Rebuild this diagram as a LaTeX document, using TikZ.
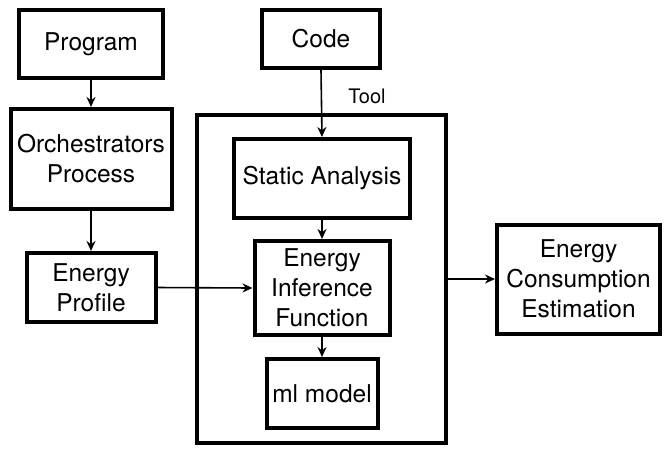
\documentclass[tikz,border=0pt]{standalone}
\usepackage{fontspec}
\setmainfont{TeX Gyre Heros}
\usetikzlibrary{arrows.meta}
\begin{document}
\begin{tikzpicture}[x=1pt,y=-1pt,
  box/.style={draw=black,line width=4pt,rectangle,inner sep=0pt,align=center,
    font=\fontsize{24.5}{30}\selectfont},
  toolbox/.style={draw=black,line width=4.5pt,rectangle,inner sep=0pt},
  arr/.style={line width=1.6pt,-{Stealth[length=10pt,width=9pt]}}]
\useasboundingbox (0,0) rectangle (666,451);
\node[toolbox,minimum width=249pt,minimum height=328pt] (tool) at (321.5,279) {};
\node[font=\fontsize{20}{24}\selectfont] (toollbl) at (367,96) {Tool};
\node[box,minimum width=144pt,minimum height=68pt] (prog) at (91,44) {Program};
\node[box,minimum width=118pt,minimum height=58pt] (code) at (321,39) {Code};
\node[box,minimum width=161pt,minimum height=100pt] (orch) at (91,159) {Orchestrators\\Process};
\node[box,minimum width=129pt,minimum height=69pt] (prof) at (91,287.5) {Energy\\Profile};
\node[box,minimum width=176pt,minimum height=79pt] (stat) at (322,178.5) {Static Analysis};
\node[box,minimum width=135pt,minimum height=94pt] (eif) at (322,288) {Energy\\Inference\\Function};
\node[box,minimum width=111pt,minimum height=69pt] (ml) at (322,393.5) {ml model};
\node[box,minimum width=163pt,minimum height=109pt] (ece) at (578.5,279) {Energy\\Consumption\\Estimation};
\draw[arr] (prog.south) -- (orch.north);
\draw[arr] (orch.south) -- (prof.north);
\draw[arr] (code.south) -- (stat.north);
\draw[arr] (stat.south) -- (eif.north);
\draw[arr] (eif.south) -- (ml.north);
\draw[arr] (prof.east) -- (eif.west);
\draw[arr] (tool.east) -- (ece.west);
\end{tikzpicture}
\end{document}
